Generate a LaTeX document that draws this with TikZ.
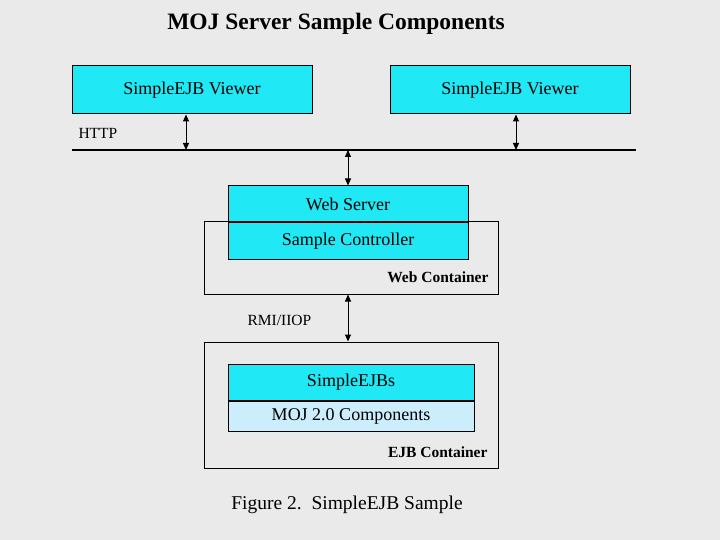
\documentclass[tikz,border=0pt]{standalone}
\usepackage{fontspec}
\setmainfont{Liberation Serif}
\usetikzlibrary{arrows.meta,positioning}
\definecolor{boxcyan}{RGB}{32,232,244}
\definecolor{boxlight}{RGB}{204,238,252}
\definecolor{bggray}{RGB}{234,234,234}
\tikzset{
  compbox/.style={draw, rectangle, fill=boxcyan, text centered, minimum width=240pt, minimum height=36pt, inner sep=0pt, font=\fontsize{18}{20}\selectfont},
  contbox/.style={draw, rectangle, minimum width=294pt, inner sep=0pt},
  contlabel/.style={font=\fontsize{15.5}{17}\selectfont\bfseries, inner sep=0pt, anchor=east},
  protolabel/.style={font=\fontsize{15.5}{17}\selectfont, inner sep=0pt, anchor=west},
  link/.style={{Triangle[length=7pt,width=6pt]}-{Triangle[length=7pt,width=6pt]}, line width=1pt},
}
\begin{document}
\begin{tikzpicture}[x=1pt, y=-1pt, line width=1pt]
	\fill[bggray] (0,0) rectangle (720,540);
	\useasboundingbox (0,0) rectangle (720,540);

	\node (title) at (336,24) [font=\fontsize{23.5}{25}\selectfont\bfseries, inner sep=0pt] {MOJ Server Sample Components};

	% viewers and the HTTP bus
	\node (viewerA) at (192,90) [compbox, minimum height=48pt] {SimpleEJB Viewer};
	\node (viewerB) at (510,90) [compbox, minimum height=48pt] {SimpleEJB Viewer};
	\coordinate (busL) at (72,150);
	\coordinate (busR) at (636,150);
	\draw [line width=2pt] (busL) -- (busR);
	\node (http) at (78,133) [protolabel] {HTTP};

	% web container
	\node (webcont) at (351,258) [contbox, minimum height=72pt] {};
	\node (webserver) at (348,204) [compbox] {Web Server};
	\node (controller) [below=0pt of webserver, compbox] {Sample Controller};
	\node (weblabel) at (489,277) [contlabel] {Web Container};

	% EJB container
	\node (ejbcont) at (351,405) [contbox, minimum height=126pt] {};
	\node (ejbs) at (351,382) [compbox, minimum width=246pt] {SimpleEJBs};
	\node (moj) [below=0pt of ejbs, compbox, minimum width=246pt, minimum height=30pt, fill=boxlight] {MOJ 2.0 Components};
	\node (ejblabel) at (488,452) [contlabel] {EJB Container};
	\node (rmi) at (247,320) [protolabel] {RMI/IIOP};

	\draw [link] (viewerA.south -| 186,0) -- (186,150);
	\draw [link] (viewerB.south -| 516,0) -- (516,150);
	\draw [link] (348,150) -- (webserver.north);
	\draw [link] (webcont.south -| 348,0) -- (ejbcont.north -| 348,0);

	\node (caption) at (347,505) [font=\fontsize{19.5}{21}\selectfont, inner sep=0pt] {Figure 2.\ \ SimpleEJB Sample};
\end{tikzpicture}
\end{document}
